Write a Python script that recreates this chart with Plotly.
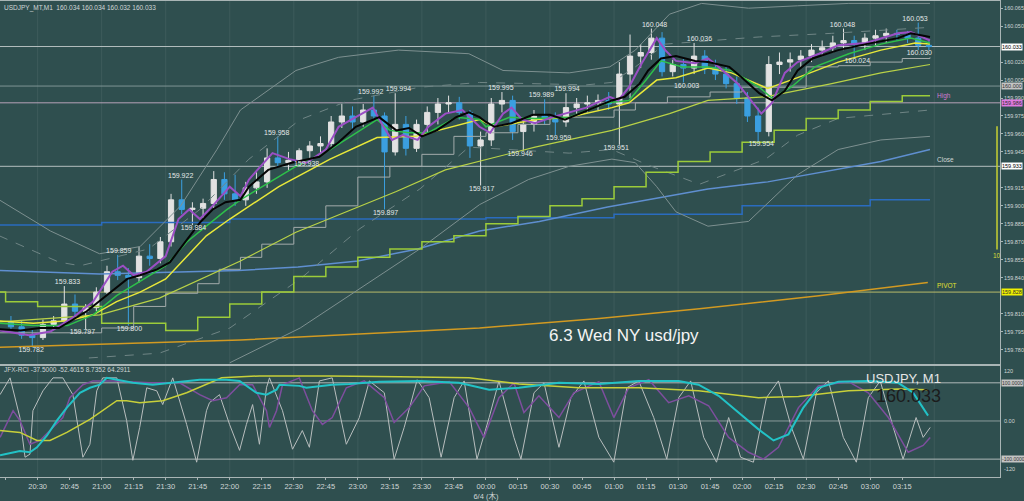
import plotly.graph_objects as go
from plotly.subplots import make_subplots

# ---------------- data (time = minutes after 20:00, 6/3) ----------------
candle_time = [15, 20, 25, 30, 35, 40, 45, 50, 55, 60, 65, 70, 75, 80, 85, 90, 95, 100, 105, 110,
               115, 120, 125, 130, 135, 140, 145, 150, 155, 160, 165, 170, 175, 180, 185, 190, 195, 200, 205, 210,
               215, 220, 225, 230, 235, 240, 245, 250, 255, 260, 265, 270, 275, 280, 285, 290, 295, 300, 305, 310,
               315, 320, 325, 330, 335, 340, 345, 350, 355, 360, 365, 370, 375, 380, 385, 390, 395, 400, 405, 410,
               415, 420, 425, 430, 435, 440, 445]
candle_open = [159.803, 159.799, 159.792, 159.790, 159.801, 159.804, 159.818, 159.812, 159.815, 159.828,
               159.845, 159.842, 159.840, 159.858, 159.856, 159.870, 159.905, 159.897, 159.898, 159.902,
               159.922, 159.910, 159.905, 159.915, 159.920, 159.940, 159.936, 159.938, 159.946, 159.950,
               159.952, 159.970, 159.975, 159.970, 159.980, 159.975, 159.945, 159.968, 159.948, 159.968,
               159.978, 159.985, 159.986, 159.978, 159.950, 159.955, 159.985, 159.988, 159.962, 159.968,
               159.975, 159.972, 159.970, 159.982, 159.985, 159.986, 159.988, 159.985, 160.010, 160.025,
               160.028, 160.040, 160.012, 160.018, 160.015, 160.025, 160.015, 160.010, 160.002, 159.990,
               159.975, 159.962, 160.018, 160.020, 160.022, 160.025, 160.030, 160.032, 160.036, 160.038,
               160.035, 160.040, 160.042, 160.044, 160.043, 160.040, 160.034]
candle_high = [159.808, 159.804, 159.797, 159.805, 159.808, 159.833, 159.826, 159.818, 159.832, 159.850,
               159.859, 159.848, 159.866, 159.868, 159.874, 159.910, 159.922, 159.903, 159.906, 159.929,
               159.928, 159.926, 159.920, 159.928, 159.948, 159.958, 159.945, 159.948, 159.954, 159.958,
               159.975, 159.985, 159.983, 159.985, 159.992, 159.978, 159.994, 159.975, 159.972, 159.983,
               159.990, 159.992, 159.991, 159.980, 159.962, 159.990, 159.995, 159.992, 159.972, 159.980,
               159.989, 159.978, 159.994, 159.990, 159.992, 159.993, 159.995, 160.020, 160.043, 160.035,
               160.048, 160.045, 160.022, 160.024, 160.036, 160.030, 160.022, 160.016, 160.008, 159.995,
               159.982, 160.025, 160.028, 160.028, 160.030, 160.035, 160.038, 160.042, 160.048, 160.042,
               160.044, 160.047, 160.048, 160.047, 160.046, 160.053, 160.038]
candle_low = [159.796, 159.789, 159.782, 159.788, 159.797, 159.802, 159.808, 159.797, 159.812, 159.826,
              159.838, 159.800, 159.836, 159.850, 159.852, 159.866, 159.893, 159.884, 159.890, 159.898,
              159.905, 159.900, 159.900, 159.910, 159.915, 159.932, 159.930, 159.938, 159.938, 159.944,
              159.948, 159.965, 159.964, 159.966, 159.972, 159.897, 159.942, 159.942, 159.945, 159.960,
              159.968, 159.978, 159.972, 159.940, 159.917, 159.950, 159.978, 159.955, 159.946, 159.962,
              159.968, 159.959, 159.966, 159.975, 159.978, 159.980, 159.980, 159.951, 159.990, 160.015,
              160.022, 160.008, 160.008, 160.003, 160.010, 160.010, 160.005, 159.998, 159.985, 159.970,
              159.954, 159.958, 160.010, 160.012, 160.016, 160.020, 160.025, 160.028, 160.030, 160.024,
              160.030, 160.034, 160.036, 160.038, 160.036, 160.030, 160.030]
candle_close = [159.799, 159.792, 159.790, 159.801, 159.804, 159.818, 159.812, 159.815, 159.828, 159.845,
                159.842, 159.840, 159.858, 159.856, 159.870, 159.905, 159.897, 159.898, 159.902, 159.922,
                159.910, 159.905, 159.915, 159.920, 159.940, 159.936, 159.938, 159.946, 159.950, 159.952,
                159.970, 159.975, 159.970, 159.980, 159.975, 159.945, 159.968, 159.948, 159.968, 159.978,
                159.985, 159.986, 159.978, 159.950, 159.955, 159.985, 159.988, 159.962, 159.968, 159.975,
                159.972, 159.970, 159.982, 159.985, 159.986, 159.988, 159.985, 160.010, 160.025, 160.028,
                160.040, 160.012, 160.018, 160.015, 160.025, 160.015, 160.010, 160.002, 159.990, 159.975,
                159.962, 160.018, 160.020, 160.022, 160.025, 160.030, 160.032, 160.036, 160.038, 160.035,
                160.040, 160.042, 160.044, 160.043, 160.040, 160.034, 160.033]

# high / low price labels
hl_time = [27, 44, 51, 68, 73, 97, 103, 142, 156, 186, 199, 193, 247, 238, 256, 266, 274, 278, 301, 319,
           340, 334, 369, 407, 414, 441, 443]
hl_price = [159.782, 159.833, 159.797, 159.859, 159.800, 159.922, 159.884, 159.958, 159.938, 159.992,
            159.994, 159.897, 159.995, 159.917, 159.946, 159.989, 159.959, 159.994, 159.951, 160.048,
            160.036, 160.003, 159.954, 160.048, 160.024, 160.053, 160.030]
hl_side = ["low", "high", "low", "high", "low", "high", "low", "high", "low", "high",
           "high", "low", "high", "low", "low", "high", "low", "high", "low", "high",
           "high", "low", "low", "high", "low", "high", "low"]

# moving averages
ma_black_t = [12, 22, 31, 40, 53, 64, 72, 78, 86, 92, 100, 106, 112, 118, 125, 129, 138, 149, 162, 171,
              179, 190, 198, 204, 210, 217, 226, 232, 237, 240, 244, 252, 262, 270, 277, 288, 299, 305, 312, 316,
              322, 329, 338, 344, 354, 360, 368, 374, 380, 386, 393, 405, 418, 433, 439, 448]
ma_black_v = [159.797, 159.796, 159.798, 159.798, 159.812, 159.828, 159.839, 159.842, 159.847, 159.853,
              159.872, 159.886, 159.897, 159.903, 159.905, 159.916, 159.930, 159.936, 159.941, 159.953,
              159.966, 159.974, 159.963, 159.965, 159.958, 159.963, 159.974, 159.978, 159.974, 159.970,
              159.966, 159.969, 159.976, 159.976, 159.972, 159.980, 159.988, 159.991, 160.002, 160.013,
              160.023, 160.025, 160.021, 160.020, 160.016, 160.007, 159.994, 159.988, 159.996, 160.013,
              160.023, 160.030, 160.035, 160.040, 160.044, 160.041]
ma_purple_t = [12, 26, 36, 46, 56, 65, 70, 75, 81, 90, 96, 101, 106, 112, 120, 125, 129, 140, 148, 156,
               165, 171, 179, 187, 192, 196, 201, 208, 213, 221, 229, 237, 242, 248, 252, 257, 263, 271, 277, 287,
               298, 302, 307, 313, 320, 324, 329, 338, 344, 349, 358, 364, 369, 374, 380, 386, 396, 405, 418, 433,
               439, 448]
ma_purple_v = [159.796, 159.792, 159.795, 159.806, 159.820, 159.845, 159.850, 159.842, 159.845, 159.858,
               159.889, 159.897, 159.889, 159.900, 159.916, 159.908, 159.922, 159.944, 159.939, 159.936,
               159.947, 159.966, 159.974, 159.982, 159.966, 159.955, 159.959, 159.955, 159.966, 159.977,
               159.980, 159.966, 159.961, 159.977, 159.982, 159.972, 159.969, 159.974, 159.977, 159.982,
               159.991, 159.988, 159.999, 160.019, 160.040, 160.030, 160.021, 160.019, 160.023, 160.016,
               160.002, 159.988, 159.977, 159.986, 160.011, 160.020, 160.027, 160.034, 160.036, 160.044,
               160.045, 160.038]
ma_green_t = [12, 28, 44, 56, 67, 78, 90, 100, 109, 118, 125, 135, 151, 167, 179, 189, 195, 204, 213, 226,
              237, 240, 251, 263, 279, 297, 307, 315, 322, 332, 344, 355, 368, 374, 383, 394, 410, 425, 439, 448]
ma_green_v = [159.802, 159.800, 159.800, 159.809, 159.825, 159.837, 159.850, 159.870, 159.883, 159.896,
              159.905, 159.916, 159.933, 159.947, 159.961, 159.972, 159.963, 159.961, 159.961, 159.974,
              159.972, 159.966, 159.974, 159.973, 159.974, 159.986, 159.988, 160.005, 160.021, 160.016,
              160.016, 160.013, 159.999, 159.990, 159.999, 160.016, 160.027, 160.035, 160.040, 160.036]
ma_yellow_t = [12, 28, 44, 56, 67, 78, 90, 100, 109, 120, 143, 167, 189, 207, 237, 244, 264, 279, 299, 307,
               320, 329, 344, 355, 372, 386, 405, 425, 441, 448]
ma_yellow_v = [159.804, 159.802, 159.804, 159.809, 159.820, 159.828, 159.839, 159.858, 159.875, 159.889,
               159.916, 159.939, 159.957, 159.958, 159.972, 159.966, 159.972, 159.974, 159.982, 159.986,
               160.005, 160.007, 160.015, 160.011, 159.998, 160.007, 160.020, 160.030, 160.036, 160.035]
ma_olive_t = [12, 59, 87, 125, 151, 182, 198, 221, 237, 263, 299, 326, 344, 371, 402, 425, 448]
ma_olive_v = [159.803, 159.809, 159.823, 159.854, 159.878, 159.900, 159.912, 159.930, 159.937, 159.949,
              159.963, 159.977, 159.988, 159.991, 160.002, 160.011, 160.018]
ma_blue_t = [12, 59, 124, 152, 180, 208, 237, 265, 297, 325, 344, 372, 401, 425, 448]
ma_blue_v = [159.846, 159.843, 159.846, 159.849, 159.854, 159.864, 159.879, 159.887, 159.899, 159.908,
             159.914, 159.920, 159.929, 159.937, 159.947]
ma_orange_t = [12, 125, 237, 293, 340, 396, 447]
ma_orange_v = [159.782, 159.788, 159.798, 159.806, 159.814, 159.825, 159.836]

# step lines
stair_gray_t = [12, 60, 75, 90, 105, 115, 125, 135, 150, 165, 180, 195, 210, 225, 240, 255, 270, 300, 310,
                325, 345, 360, 390, 405, 420, 435, 448]
stair_gray_v = [159.794, 159.798, 159.816, 159.827, 159.835, 159.847, 159.857, 159.868, 159.882, 159.900,
                159.924, 159.933, 159.943, 159.958, 159.961, 159.968, 159.974, 159.980, 159.986, 159.991,
                159.995, 159.999, 160.016, 160.017, 160.020, 160.023, 160.024]
step_lime_t = [12, 15, 30, 60, 90, 105, 120, 135, 150, 165, 180, 195, 210, 225, 240, 255, 270, 285, 300,
               315, 330, 345, 360, 375, 390, 405, 420, 435, 448]
step_lime_v = [159.828, 159.820, 159.816, 159.802, 159.796, 159.807, 159.818, 159.828, 159.841, 159.849,
               159.857, 159.864, 159.870, 159.875, 159.885, 159.891, 159.900, 159.906, 159.916, 159.928,
               159.937, 159.945, 159.953, 159.963, 159.973, 159.980, 159.987, 159.992, 159.992]
step_blue_t = [12, 60, 120, 240, 300, 360, 420, 448]
step_blue_v = [159.884, 159.886, 159.889, 159.890, 159.893, 159.900, 159.905, 159.905]

# bollinger-style envelopes
bb_up2_t = [12, 36, 59, 78, 97, 114, 125, 151, 171, 199, 232, 248, 279, 298, 310, 326, 341, 363, 386, 410, 448]
bb_up2_v = [159.905, 159.879, 159.860, 159.866, 159.900, 159.947, 159.980, 160.013, 160.024, 160.030,
            160.027, 160.013, 160.011, 160.016, 160.030, 160.060, 160.069, 160.065, 160.067, 160.069, 160.069]
bb_up1_t = [12, 40, 50, 82, 106, 129, 153, 176, 209, 237, 287, 299, 310, 324, 368, 402, 448]
bb_up1_v = [159.875, 159.853, 159.850, 159.864, 159.897, 159.939, 159.972, 159.988, 159.999, 160.003,
            160.001, 160.003, 160.016, 160.035, 160.041, 160.044, 160.049]
bb_lo1_t = [54, 87, 120, 153, 181, 209, 232, 279, 299, 316, 340, 371, 386, 405, 448]
bb_lo1_v = [159.773, 159.777, 159.798, 159.839, 159.881, 159.914, 159.949, 159.944, 159.947, 159.934,
            159.918, 159.939, 159.959, 159.973, 159.980]
bb_lo2_t = [120, 153, 181, 209, 237, 260, 279, 299, 310, 320, 329, 344, 363, 386, 405, 425, 448]
bb_lo2_v = [159.769, 159.798, 159.831, 159.864, 159.901, 159.922, 159.933, 159.939, 159.936, 159.916,
            159.895, 159.883, 159.887, 159.926, 159.947, 159.955, 159.958]

# horizontal levels
price_now = 160.033
round_level = 160.000
high_level = 159.986
close_level = 159.933
pivot_level = 159.828
range_bar_t = [479.4, 479.4]
range_bar_v = [159.9665, 159.8635]

# RCI oscillator
rci_fast_t = [12.4, 17.1, 21.7, 24.1, 26.4, 27.8, 32.5, 37.2, 41.8, 46.5, 51.2, 54.5, 57.7, 60.5, 67.1,
              71.7, 74.6, 77.8, 81.1, 85.8, 88.6, 93.3, 99.8, 104.5, 109.1, 110.5, 115.2, 119.9, 124.6,
              127.8, 130.7, 133.9, 137.2, 138.6, 144.7, 149.4, 154.0, 157.3, 162.0, 168.0, 174.6, 180.7,
              185.4, 192.4, 197.0, 201.7, 207.8, 213.4, 219.0, 225.1, 229.8, 235.8, 241.5, 246.1, 253.1,
              256.4, 262.5, 267.2, 274.2, 279.8, 285.9, 292.9, 299.9, 306.0, 311.6, 318.6, 324.7, 330.3,
              335.9, 342.0, 348.0, 353.7, 359.3, 365.3, 371.4, 377.0, 383.1, 388.7, 394.8, 400.4, 407.4,
              413.5, 419.1, 424.7, 430.8, 435.4, 441.5, 444.8, 448.1]
rci_fast_v = [69, 113, 9, -95, -87, 27, 79, 113, 113, 69, -95, -61, 79, 113, 113,
              1, -103, -17, 87, 79, 43, 113, -9, -108, 27, 48, 69, -9, -77,
              -9, 43, -61, 87, 113, 27, -74, -25, -69, 105, 113, -61, 9,
              105, 74, -100, -17, 108, 61, -95, 61, 105, -100, 9, 105, -43,
              -100, 74, 100, -69, 61, 105, -43, -108, 87, 105, 9, -100, 61,
              105, -43, -108, 9, -95, -108, 61, 105, -17, -100, 74, 105, -43,
              -108, 61, 105, -17, -100, 9, -43, -17]
rci_mid_t = [12.4, 18.5, 21.7, 26.4, 31.1, 37.2, 41.8, 45.1, 51.2, 55.9, 65.2, 82.5, 96.5, 105.9, 112.0,
             118.5, 124.6, 130.7, 137.2, 138.6, 141.9, 144.7, 152.6, 158.7, 163.4, 168.0, 174.6, 183.0,
             192.4, 197.0, 204.1, 211.1, 222.8, 232.1, 239.1, 246.1, 253.1, 257.8, 264.8, 274.2, 281.2,
             292.9, 299.9, 306.9, 316.3, 325.6, 335.0, 344.3, 353.7, 363.0, 370.0, 377.0, 386.4, 395.7,
             409.8, 419.1, 428.5, 437.8, 444.8, 448.1]
rci_mid_v = [-43, 27, 1, -61, -51, -17, 9, 61, 95, 105, 105, 100, 100, 69, 53,
             61, 95, 95, 27, -17, 27, 95, 113, 27, -9, 9, 87, 105,
             61, -4, 35, 92, 103, 35, -43, 61, 100, 22, 66, 9, 74,
             103, 9, 87, 108, 48, 66, 40, -43, -82, -100, -69, 35, 92,
             103, 74, 9, -82, -64, -43]
rci_cyan_t = [12.4, 17.1, 21.7, 26.4, 29.7, 34.4, 39.0, 43.7, 49.8, 54.5, 59.1, 62.4, 74.6, 83.9, 93.3,
              105.9, 118.5, 124.6, 132.5, 137.2, 141.9, 143.3, 152.6, 155.9, 168.0, 176.0, 190.0, 208.7,
              227.4, 241.5, 255.5, 274.2, 292.9, 311.6, 330.3, 339.6, 349.0, 358.3, 367.7, 374.7, 381.7,
              388.7, 395.7, 405.1, 419.1, 433.1, 440.1, 447.1]
rci_cyan_v = [-90, -84, -79, -82, -69, -38, 1, 35, 74, 87, 95, 113, 100, 95, 100,
              108, 108, 105, 74, 69, 82, 95, 92, 87, 95, 97, 103, 105,
              100, 82, 87, 100, 97, 105, 105, 95, 66, 22, -22, -51, -35,
              35, 87, 103, 105, 100, 74, 14]
rci_slow_t = [12.4, 21.7, 29.7, 35.8, 43.7, 54.5, 67.1, 71.7, 77.8, 88.6, 99.8, 109.1, 116.2, 133.9, 166.6,
              199.4, 232.1, 255.5, 283.5, 311.6, 339.6, 367.7, 386.4, 409.8, 433.1, 447.1]
rci_slow_v = [-25, -30, -51, -51, -30, 4, 53, 53, 48, 53, 74, 95, 113, 118, 118,
              116, 113, 97, 87, 87, 79, 61, 64, 79, 84, 82]
rci_levels = [100, 0, -100]

# axes
x_tick_vals = [15, 30, 45, 60, 75, 90, 105, 120, 135, 150, 165, 180, 195, 210, 225, 240, 255, 270, 285,
               300, 315, 330, 345, 360, 375, 390, 405, 420, 435]
x_tick_text = ["20:15", "20:30", "20:45", "21:00", "21:15", "21:30", "21:45", "22:00", "22:15", "22:30",
               "22:45", "23:00", "23:15", "23:30", "23:45", "00:00<br>6/4 (木)", "00:15", "00:30", "00:45",
               "01:00", "01:15", "01:30", "01:45", "02:00", "02:15", "02:30", "02:45", "03:00", "03:15"]
grid_times = [30, 60, 90, 120, 150, 180, 210, 240, 270, 300, 330, 360, 390, 420, 450]
# (160.035, 159.930 and 159.825 are hidden behind the price boxes in the reference)
y_tick_vals = [160.065, 160.050, 160.020, 160.005, 159.990, 159.975, 159.960, 159.945,
               159.915, 159.900, 159.885, 159.870, 159.855, 159.840, 159.810, 159.795, 159.780]

# ---------------- figure ----------------
BG = "#2f4f4f"
FONT = "Liberation Sans, Noto Sans CJK JP, sans-serif"
AX = "#a9b5b5"
TXT = "#cfd6d6"

fig = make_subplots(rows=2, cols=1, shared_xaxes=True)


def add_line(t, v, color, width=1.0, dash=None, shape="linear", row=1):
    fig.add_trace(go.Scatter(x=t, y=v, mode="lines",
                             line=dict(color=color, width=width, dash=dash, shape=shape),
                             hoverinfo="skip", showlegend=False), row=row, col=1)


add_line(ma_orange_t, ma_orange_v, "#d29a22", 1.5)
add_line(step_blue_t, step_blue_v, "#2a6cc0", 1.5, shape="hv")
add_line(ma_blue_t, ma_blue_v, "#5f8fd0", 1.5)
add_line(bb_lo2_t, bb_lo2_v, "#7d9090", 1)
add_line(bb_up2_t, bb_up2_v, "#7d9090", 1)
add_line(bb_lo1_t, bb_lo1_v, "#6f8585", 1, dash="dash")
add_line(bb_up1_t, bb_up1_v, "#6f8585", 1, dash="dash")
add_line(step_lime_t, step_lime_v, "#9ccc3a", 1.5, shape="hv")
add_line(stair_gray_t, stair_gray_v, "#a3abab", 1, shape="hv")
add_line(ma_olive_t, ma_olive_v, "#b9d247", 1.2)
add_line(range_bar_t, range_bar_v, "#c8d232", 1.5)

fig.add_trace(go.Candlestick(
    x=[t + 2.5 for t in candle_time], open=candle_open, high=candle_high,
    low=candle_low, close=candle_close,
    increasing=dict(line=dict(color="#e2e2e2", width=1), fillcolor="#e2e2e2"),
    decreasing=dict(line=dict(color="#3b9fe0", width=1), fillcolor="#3b9fe0"),
    whiskerwidth=0, hoverinfo="skip", showlegend=False), row=1, col=1)

add_line(ma_yellow_t, ma_yellow_v, "#e8e83a", 1.5)
add_line(ma_green_t, ma_green_v, "#2ec04a", 1.5)
add_line(ma_purple_t, ma_purple_v, "#9a4fc4", 2)
add_line(ma_black_t, ma_black_v, "#050505", 2)

for side, pos in (("high", "top center"), ("low", "bottom center")):
    xs = [t for t, s in zip(hl_time, hl_side) if s == side]
    ys = [p for p, s in zip(hl_price, hl_side) if s == side]
    fig.add_trace(go.Scatter(x=xs, y=ys, mode="text", text=["%.3f" % p for p in ys],
                             textposition=pos, textfont=dict(size=7, color="#e4e8e8", family=FONT),
                             hoverinfo="skip", showlegend=False), row=1, col=1)

# oscillator
add_line(rci_fast_t, rci_fast_v, "#b8bebe", 1, row=2)
add_line(rci_mid_t, rci_mid_v, "#7e4e9e", 1.5, row=2)
add_line(rci_slow_t, rci_slow_v, "#c8d03a", 1.5, row=2)
add_line(rci_cyan_t, rci_cyan_v, "#22c2c6", 2, row=2)

shapes = []
for g in grid_times:
    shapes.append(dict(type="line", xref="x", yref="paper", x0=g, x1=g, y0=0, y1=1,
                       line=dict(color="rgba(255,255,255,0.07)", width=1), layer="below"))
for lvl, col in ((price_now, "#b4bebe"), (round_level, "#7f9494"), (high_level, "#b6a2b8"),
                 (close_level, "#b4bebe"), (pivot_level, "#b8bb6a")):
    shapes.append(dict(type="line", xref="x domain", yref="y", x0=0, x1=1, y0=lvl, y1=lvl,
                       line=dict(color=col, width=1), layer="below"))
for lvl in rci_levels:
    shapes.append(dict(type="line", xref="x2 domain", yref="y2", x0=0, x1=1, y0=lvl, y1=lvl,
                       line=dict(color="#b0baba" if lvl else "#8a9c9c", width=1), layer="below"))

ann = []
ann.append(dict(xref="paper", yref="paper", x=0.002, y=0.998, xanchor="left", yanchor="top",
                text="USDJPY_MT,M1  160.034 160.034 160.032 160.033", showarrow=False,
                font=dict(size=6.5, color=TXT, family=FONT)))
ann.append(dict(xref="paper", yref="paper", x=0.002, y=0.226, xanchor="left", yanchor="middle",
                text="JFX-RCI -37.5000 -52.4615 8.7352 64.2911", showarrow=False,
                font=dict(size=6.5, color=TXT, family=FONT)))
ann.append(dict(xref="paper", yref="paper", x=0.624, y=0.298, xanchor="center", yanchor="middle",
                text="6.3 Wed NY usd/jpy", showarrow=False,
                font=dict(size=17, color="#f4f4f4", family=FONT)))
ann.append(dict(xref="paper", yref="paper", x=0.943, y=0.206, xanchor="right", yanchor="middle",
                text="USDJPY, M1", showarrow=False, font=dict(size=13, color="#e6e6e6", family=FONT)))
ann.append(dict(xref="paper", yref="paper", x=0.943, y=0.170, xanchor="right", yanchor="middle",
                text="%.3f" % price_now, showarrow=False, font=dict(size=18, color="#1c1c1c", family=FONT)))
for lvl, bg, txt in ((price_now, "#ffffff", "#000000"), (round_level, "#c4c4c4", "#303030"),
                     (high_level, "#e07ae0", "#303030"), (close_level, "#ffffff", "#000000"),
                     (pivot_level, "#f0f000", "#303030")):
    ann.append(dict(xref="paper", yref="y", x=1, y=lvl, xanchor="left", yanchor="middle", xshift=1,
                    text="%.3f" % lvl, showarrow=False, bgcolor=bg, borderpad=0,
                    font=dict(size=5.5, color=txt, family=FONT)))
for name, lvl, col in (("High", high_level, "#d27ad2"), ("Close", close_level, "#d0d6d6"),
                       ("PIVOT", pivot_level, "#e0e030")):
    ann.append(dict(xref="x", yref="y", x=450.5, y=lvl, xanchor="left", yanchor="bottom", yshift=1,
                    text=name, showarrow=False, font=dict(size=6.5, color=col, family=FONT)))
ann.append(dict(xref="x", yref="y", x=range_bar_t[1], y=range_bar_v[1], xanchor="center", yanchor="top",
                text="10", showarrow=False, font=dict(size=6.5, color="#d6dc3a", family=FONT)))
for lvl in (100, -100):
    ann.append(dict(xref="paper", yref="y2", x=1, y=lvl, xanchor="left", yanchor="middle", xshift=1,
                    text="%.4f" % lvl, showarrow=False, bgcolor="#c4c4c4", borderpad=0,
                    font=dict(size=5, color="#303030", family=FONT)))
ann.append(dict(xref="paper", yref="y2", x=1, y=0, xanchor="left", yanchor="middle", xshift=2,
                text="0.00", showarrow=False, font=dict(size=5.5, color=TXT, family=FONT)))
ann.append(dict(xref="paper", yref="y2 domain", x=1, y=1, xanchor="left", yanchor="top", xshift=2,
                text="120", showarrow=False, font=dict(size=5.5, color=TXT, family=FONT)))
ann.append(dict(xref="paper", yref="y2 domain", x=1, y=0.03, xanchor="left", yanchor="bottom", xshift=2,
                text="-120", showarrow=False, font=dict(size=5.5, color=TXT, family=FONT)))

x_range = [12.375, 480.8]
fig.update_layout(
    width=1024, height=501, margin=dict(l=0, r=22, t=0, b=21),
    paper_bgcolor=BG, plot_bgcolor=BG, hovermode=False, showlegend=False,
    shapes=shapes, annotations=ann,
    xaxis=dict(range=x_range, showticklabels=False, showgrid=False, zeroline=False,
               showline=True, linecolor=AX, mirror=True, rangeslider=dict(visible=False)),
    xaxis2=dict(range=x_range, tickvals=x_tick_vals, ticktext=x_tick_text, showgrid=False,
                zeroline=False, showline=True, linecolor=AX, mirror=True, ticks="outside",
                ticklen=2, tickcolor=AX, tickfont=dict(size=7.5, color=TXT, family=FONT)),
    yaxis=dict(domain=[0.2375, 1], range=[159.768, 160.071], side="right", tickvals=y_tick_vals,
               tickformat=".3f", showgrid=False, zeroline=False, showline=True, linecolor=AX,
               ticks="outside", ticklen=2, tickcolor=AX,
               tickfont=dict(size=5.5, color=TXT, family=FONT)),
    yaxis2=dict(domain=[0, 0.2333], range=[-146.8, 144.2], side="right", showticklabels=False,
                showgrid=False, zeroline=False, showline=True, linecolor=AX, ticks=""),
)

fig.write_html("out.html")
